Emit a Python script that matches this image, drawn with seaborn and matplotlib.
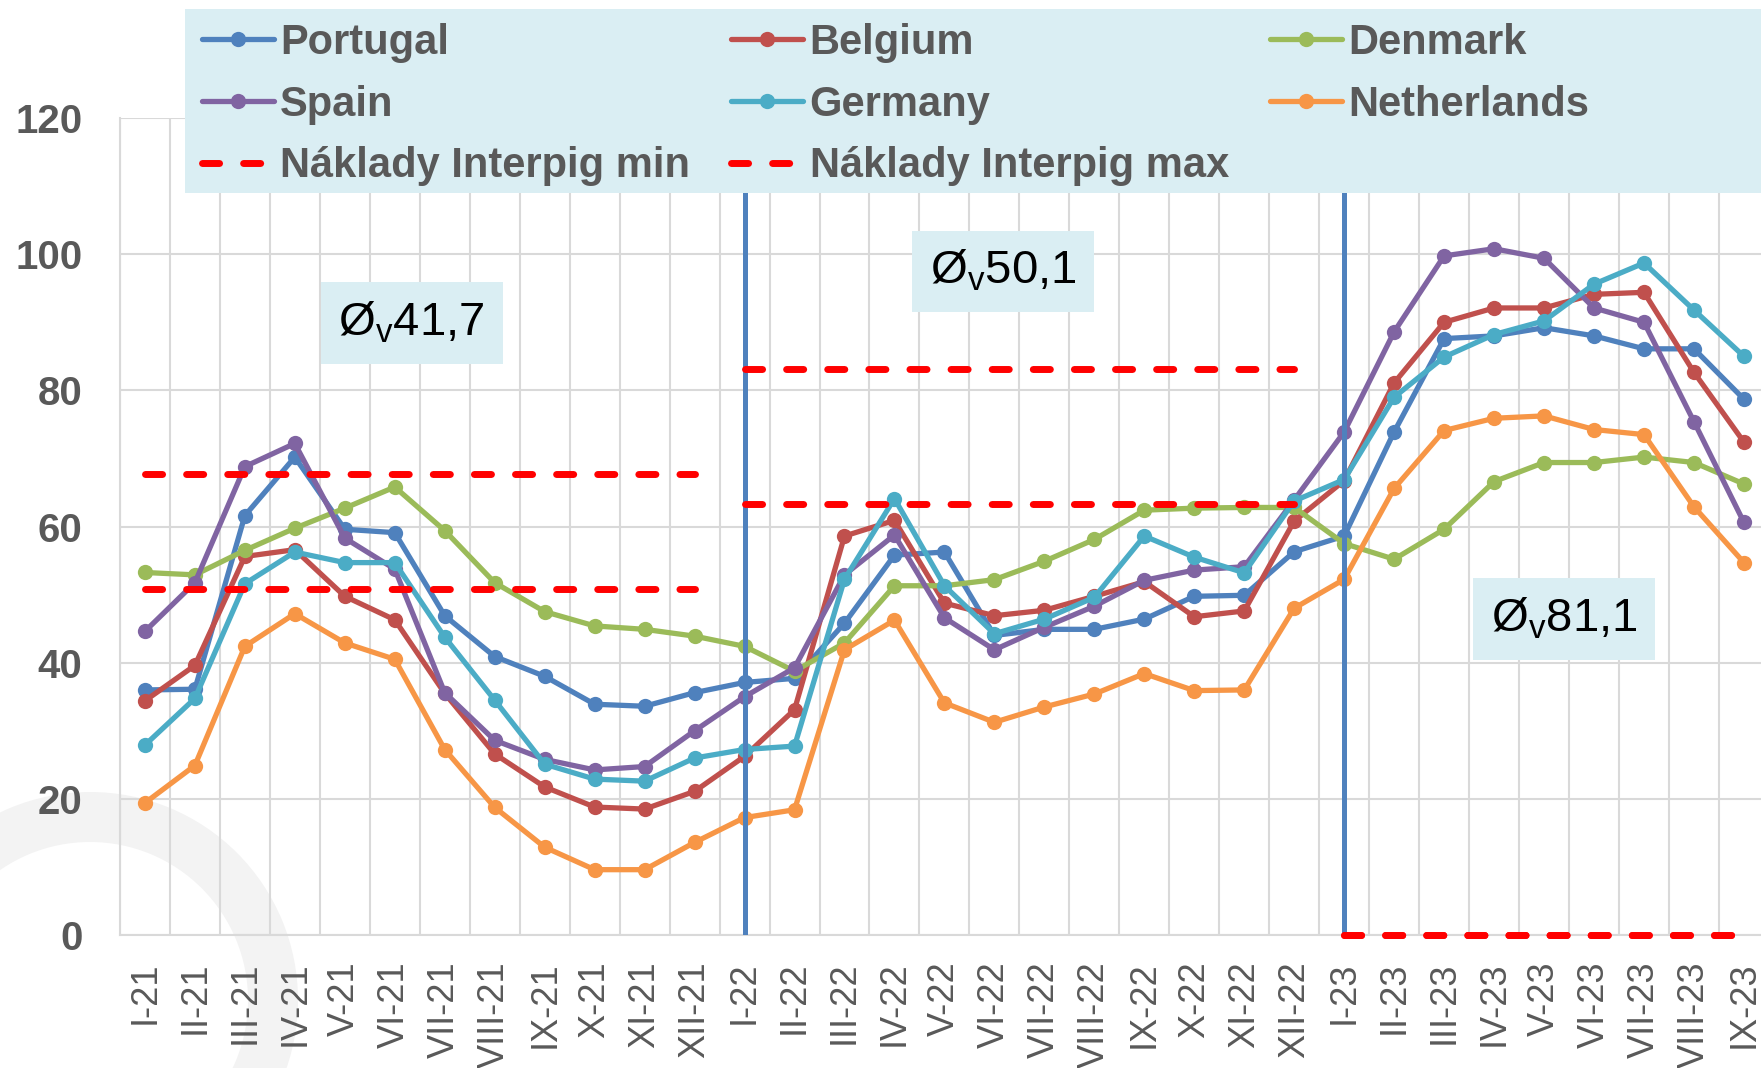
import numpy as np
import pandas as pd
import seaborn as sns
import matplotlib.pyplot as plt
from matplotlib.lines import Line2D
from matplotlib.patches import Rectangle, Wedge

# month labels, roman numerals as in the source chart
roman = ["I", "II", "III", "IV", "V", "VI", "VII", "VIII", "IX", "X", "XI", "XII"]
months = [f"{r}-21" for r in roman] + [f"{r}-22" for r in roman] + [f"{r}-23" for r in roman[:9]]

countries = ["Portugal", "Belgium", "Denmark", "Spain", "Germany", "Netherlands"]
colors = ["#4F81BD", "#C0504D", "#9BBB59", "#8064A2", "#4BACC6", "#F79646"]

portugal = [36.0, 36.1, 61.6, 70.2, 59.6, 59.1, 46.9, 40.9, 38.0, 33.9, 33.6, 35.6,
            37.1, 37.7, 45.8, 55.8, 56.25, 44.0, 44.9, 44.9, 46.4, 49.75, 49.9, 56.3,
            58.6, 73.9, 87.6, 88.0, 89.2, 88.0, 86.1, 86.1, 78.7]
belgium = [34.4, 39.6, 55.6, 56.6, 49.75, 46.3, 35.5, 26.6, 21.75, 18.8, 18.5, 21.1,
           26.25, 33.1, 58.6, 60.9, 48.75, 46.9, 47.7, 49.75, 51.9, 46.75, 47.6, 60.8,
           66.75, 81.1, 90.0, 92.1, 92.1, 94.1, 94.4, 82.65, 72.4]
denmark = [53.25, 52.9, 56.5, 59.75, 62.7, 65.8, 59.4, 51.75, 47.5, 45.4, 44.9, 43.9,
           42.4, 38.75, 42.9, 51.3, 51.3, 52.2, 54.9, 58.1, 62.4, 62.7, 62.8, 62.8,
           57.5, 55.2, 59.6, 66.6, 69.4, 69.4, 70.2, 69.4, 66.25]
spain = [44.6, 51.75, 68.8, 72.2, 58.3, 53.75, 35.6, 28.6, 25.8, 24.25, 24.75, 30.0,
         35.0, 39.25, 52.9, 58.75, 46.6, 41.9, 45.2, 48.3, 52.1, 53.6, 54.1, 63.9,
         73.9, 88.6, 99.75, 100.8, 99.4, 92.1, 90.0, 75.4, 60.6]
germany = [27.9, 34.75, 51.6, 56.25, 54.7, 54.7, 43.75, 34.5, 25.1, 22.9, 22.6, 26.0,
           27.25, 27.75, 52.25, 64.1, 51.3, 44.25, 46.4, 49.6, 58.6, 55.5, 53.2, 63.75,
           66.9, 79.0, 84.9, 88.2, 90.2, 95.6, 98.7, 91.8, 85.0]
netherlands = [19.4, 24.9, 42.4, 47.2, 42.9, 40.5, 27.25, 18.75, 12.9, 9.6, 9.6, 13.6,
               17.25, 18.4, 41.9, 46.25, 34.1, 31.25, 33.5, 35.4, 38.4, 35.9, 36.0, 48.0,
               52.25, 65.6, 74.1, 75.9, 76.25, 74.25, 73.5, 62.9, 54.7]

years = ["21", "22", "23"]
cost_min = [50.8, 63.3, 0.0]
cost_max = [67.7, 83.2, 0.0]
averages = ["41,7", "50,1", "81,1"]

sns.set_style("white")
plt.rcParams["font.family"] = ["Liberation Sans", "DejaVu Sans"]
plt.rcParams["mathtext.fontset"] = "custom"
plt.rcParams["mathtext.rm"] = "Liberation Sans"

values = [portugal, belgium, denmark, spain, germany, netherlands]
df = pd.DataFrame({
    "idx": np.tile(np.arange(len(months)), len(countries)),
    "value": np.concatenate(values),
    "country": np.repeat(countries, len(months)),
})

fig = plt.figure(figsize=(17.61, 10.68), dpi=100)
ax = fig.add_axes([0.0681, 0.1245, 0.9364, 0.765])
ax.set_facecolor("none")

# faint logo ring in the lower-left corner
fig.add_artist(Wedge((0.9, 0.68), 2.08, 0, 360, width=0.5, transform=fig.dpi_scale_trans,
                     facecolor="#F3F3F3", edgecolor="none", zorder=-1))

sns.lineplot(data=df, x="idx", y="value", hue="country", hue_order=countries,
             palette=colors, marker="o", markersize=11, markeredgewidth=0,
             linewidth=3.8, legend=False, sort=False, ax=ax, zorder=3)
country_lines = ax.lines[:len(countries)]

dash = (0, (2.46, 3.46))
for yr, lo, hi in zip(years, cost_min, cost_max):
    xs = [i for i, m in enumerate(months) if m.endswith(yr)]
    for v in (lo, hi):
        ax.plot(xs, [v] * len(xs), color="#FF0000", lw=5, linestyle=dash,
                dash_capstyle="round", zorder=5, clip_on=False)

for yr in years[1:]:
    ax.axvline(months.index("I-" + yr), color="#4F81BD", lw=3.6, zorder=4)

box_pos = [(5.34, 89.9), (17.17, 97.5), (28.4, 46.4)]
for (bx, by), avg in zip(box_pos, averages):
    ax.text(bx, by, "Ø$_{\\mathregular{v}}$" + avg, fontsize=34, ha="center", va="center",
            color="black", zorder=6,
            bbox=dict(boxstyle="square,pad=0.38", facecolor="#DAEEF3", edgecolor="none"))

ax.set_xlim(-0.5, len(months) - 0.5)
ax.set_ylim(0, 120)
ax.set_yticks(range(0, 121, 20))
ax.set_xticks(range(len(months)))
ax.set_xticklabels(months, rotation=90, fontsize=26, color="#595959")
ax.set_xticks(np.arange(-0.5, len(months), 1), minor=True)
for lab in ax.get_yticklabels():
    lab.set_fontsize(29)
    lab.set_fontweight("bold")
    lab.set_color("#595959")
ax.tick_params(axis="x", which="both", length=0, pad=19)
ax.tick_params(axis="y", length=0, pad=27)
ax.grid(False)
ax.grid(which="minor", axis="x", color="#D9D9D9", lw=1.5, zorder=0)
ax.grid(which="major", axis="y", color="#D9D9D9", lw=1.5, zorder=0)
ax.set_xlabel("")
ax.set_ylabel("")
for side in ["top", "right"]:
    ax.spines[side].set_visible(False)
for side in ["left", "bottom"]:
    ax.spines[side].set_color("#D9D9D9")
    ax.spines[side].set_linewidth(1.5)

# legend panel
fig.add_artist(Rectangle((185 / 1761, 1 - 193 / 1068), (1761 - 185) / 1761, 184 / 1068,
                         transform=fig.transFigure, facecolor="#DAEEF3", edgecolor="none", zorder=3))
min_h = Line2D([], [], color="#FF0000", lw=5, linestyle=dash, dash_capstyle="round")
max_h = Line2D([], [], color="#FF0000", lw=5, linestyle=dash, dash_capstyle="round")
h = dict(zip(countries, country_lines))
handles = [h["Portugal"], h["Spain"], min_h, h["Belgium"], h["Germany"], max_h,
           h["Denmark"], h["Netherlands"]]
labels = ["Portugal", "Spain", "Náklady Interpig min", "Belgium", "Germany",
          "Náklady Interpig max", "Denmark", "Netherlands"]
fig.legend(handles, labels, ncol=3, loc="upper left", bbox_to_anchor=(202 / 1761, 1 - 23 / 1068),
           frameon=False, prop={"weight": "bold", "size": 30}, labelcolor="#595959",
           handlelength=1.73, handletextpad=0.15, columnspacing=0.98, labelspacing=0.52,
           borderpad=0, borderaxespad=0)

fig.savefig("out.png", dpi=100)
